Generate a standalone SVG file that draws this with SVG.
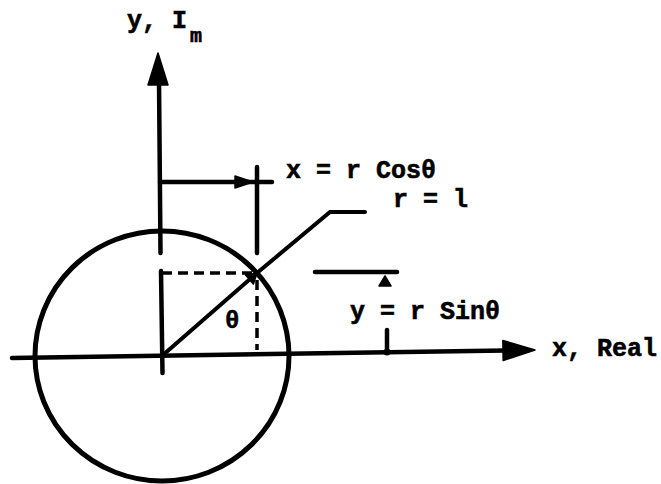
<svg xmlns="http://www.w3.org/2000/svg" width="661" height="484" viewBox="0 0 661 484">
  <style>
    .ln { stroke: #000; stroke-width: 4.5; fill: none; stroke-linecap: round; }
    .thin { stroke: #000; stroke-width: 4; fill: none; stroke-linecap: round; }
    .dash { stroke: #000; stroke-width: 3.5; fill: none; stroke-dasharray: 10 6; }
    .lbl { font-family: "Liberation Mono", "DejaVu Sans Mono", monospace; font-weight: bold; font-size: 25px; fill: #000; stroke: #000; stroke-width: 0.6; }
    .head { fill: #000; stroke: #000; stroke-width: 1.5; stroke-linejoin: round; }
  </style>
  <defs>
    <path id="bighead" d="M-32,-10 L0,0 L-32,10 Z"/>
    <path id="smallhead" d="M-18,-6 L0,0 L-18,6 Z"/>
    <path id="tinyhead" d="M-10,-6 L0,0 L-10,6 Z"/>
  </defs>
  <rect width="661" height="484" fill="#fff"/>

  <g id="circle">
    <ellipse cx="162" cy="356" rx="127" ry="125" stroke="#000" stroke-width="5" fill="none"/>
  </g>

  <g id="connectors">
    <g id="x-axis">
      <line class="ln" x1="12" y1="358" x2="505" y2="350.5"/>
      <use href="#bighead" class="head" transform="translate(535,350) rotate(-0.9)"/>
    </g>
    <g id="y-axis">
      <line class="ln" x1="159" y1="80" x2="160.5" y2="253"/>
      <line class="ln" x1="161" y1="271" x2="162.5" y2="373"/>
      <use href="#bighead" class="head" transform="translate(158,53) rotate(-90)"/>
    </g>
    <g id="x-dimension">
      <line class="ln" x1="160" y1="182" x2="272" y2="182"/>
      <use href="#smallhead" class="head" transform="translate(253,182)"/>
      <line class="ln" x1="257" y1="167" x2="257" y2="253"/>
      <line class="dash" x1="257" y1="280" x2="257" y2="350"/>
    </g>
    <line id="y-projection" class="dash" x1="162" y1="273" x2="254" y2="273"/>
    <g id="radius">
      <line class="thin" x1="163" y1="355" x2="257" y2="273"/>
      <use href="#tinyhead" class="head" transform="translate(257,273) rotate(-41)"/>
      <polyline class="thin" points="257,273 330,212 365,212"/>
    </g>
    <g id="y-dimension">
      <line class="ln" x1="315" y1="272" x2="397" y2="272"/>
      <use href="#tinyhead" class="head" transform="translate(385,276) rotate(-90)"/>
      <line class="ln" x1="387" y1="330" x2="387" y2="352"/>
      <circle cx="387" cy="352" r="3.5" fill="#000"/>
    </g>
  </g>

  <g id="label-y-axis">
    <text class="lbl" x="127" y="28">y, I</text>
    <text class="lbl" x="190" y="42" style="font-size:20px">m</text>
  </g>
  <g id="label-x-axis">
    <text class="lbl" x="552" y="356">x, Real</text>
  </g>
  <g id="label-x-cos">
    <text class="lbl" x="286" y="178">x = r Cosθ</text>
  </g>
  <g id="label-r">
    <text class="lbl" x="393" y="207">r = l</text>
  </g>
  <g id="label-y-sin">
    <text class="lbl" x="350" y="319">y = r Sinθ</text>
  </g>
  <g id="label-theta">
    <text class="lbl" x="225" y="328" style="font-size:24px">θ</text>
  </g>
</svg>
